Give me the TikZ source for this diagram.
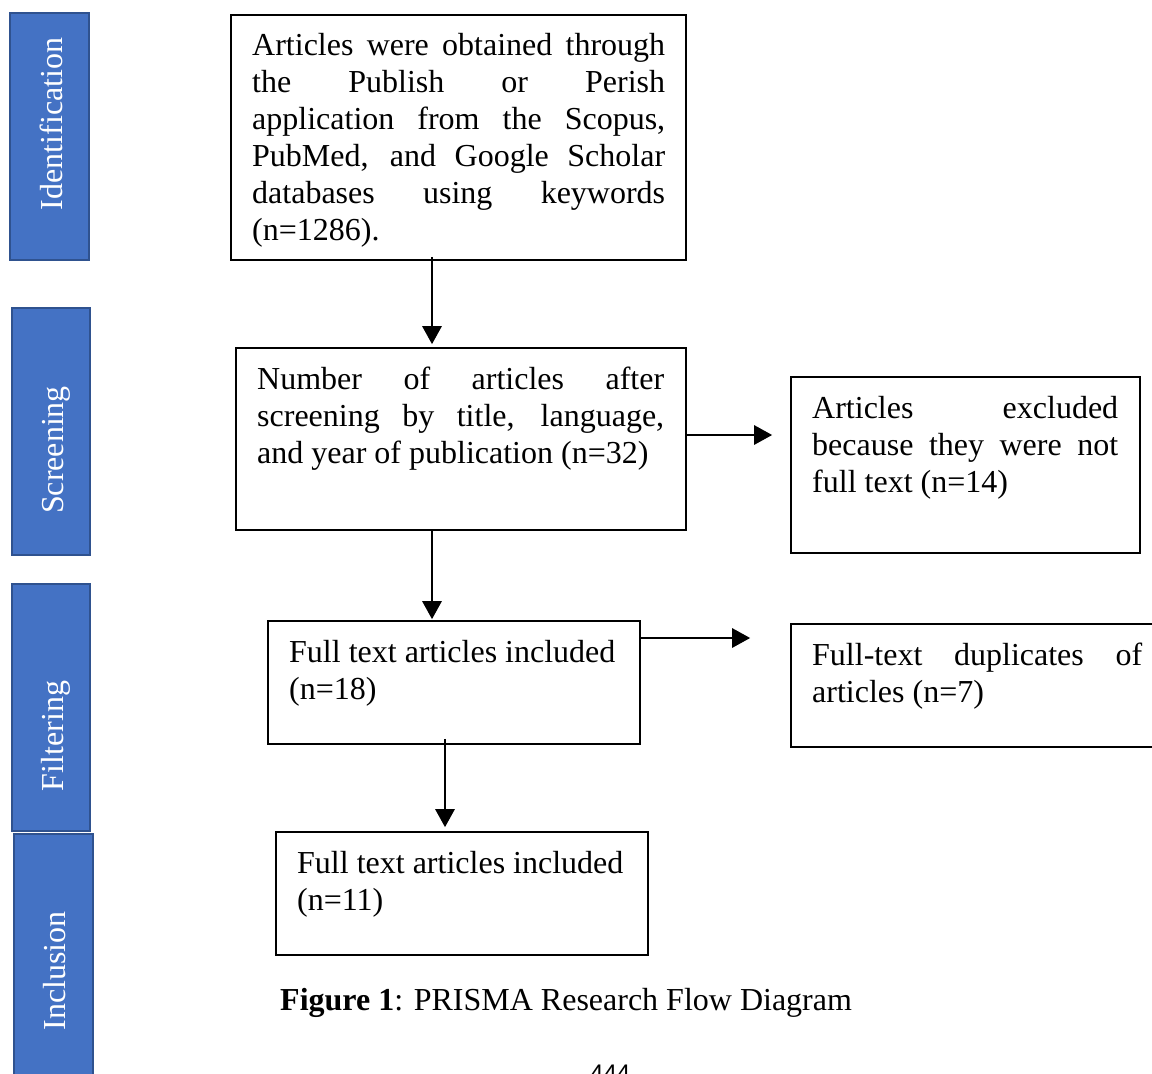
\documentclass[tikz,border=0pt]{standalone}
\usepackage{fontspec}
\setmainfont{Liberation Serif}
\newfontfamily\pagefont{Liberation Sans}
\usetikzlibrary{arrows.meta,calc}
\definecolor{barfill}{HTML}{4472C4}
\definecolor{barline}{HTML}{2F528F}
\tikzset{
  bar/.style={draw=barline, fill=barfill, line width=2.2pt, inner sep=0pt},
  bartext/.style={rotate=90, anchor=base, text=white, inner sep=0pt, font=\fontsize{32}{37}\selectfont},
  flowbox/.style={draw=black, line width=1.6pt, inner sep=0pt},
  boxtext/.style={anchor=base west, inner sep=0pt, font=\fontsize{32}{37}\selectfont},
  arr/.style={draw=black, line width=2.8pt, -{Triangle[length=18pt,width=19pt]}},
}
\newcommand\jline[2]{\makebox[#1][s]{#2}}
\begin{document}
\begin{tikzpicture}[x=1pt,y=-1pt]
\useasboundingbox (0,0) rectangle (1152,1074);
% side bars
\path[bar] (10,13) rectangle (89,260);
\path[bar] (12,308) rectangle (90,555);
\path[bar] (12,584) rectangle (90,831);
\path[bar] (14,834) rectangle (93,1095);
\node[bartext] (lid) at (62,124) {Identification};
\node[bartext] (lsc) at (63,450) {Screening};
\node[bartext] (lfi) at (63,736) {Filtering};
\node[bartext] (lin) at (65,971) {Inclusion};
% boxes
\node[flowbox, minimum width=455pt, minimum height=245pt] (b1) at (458.5,137.5) {};
\node[flowbox, minimum width=450pt, minimum height=182pt] (b2) at (461,439) {};
\node[flowbox, minimum width=349pt, minimum height=176pt] (b3) at (965.5,465) {};
\node[flowbox, minimum width=372pt, minimum height=123pt] (b4) at (454,682.5) {};
\node[flowbox, minimum width=380pt, minimum height=123pt] (b5) at (981,685.5) {};
\node[flowbox, minimum width=372pt, minimum height=123pt] (b6) at (462,893.5) {};
% texts
\node[boxtext] (t1) at (252,55) {\parbox[t]{413pt}{%
\jline{413pt}{Articles were obtained through}\\
\jline{413pt}{the Publish or Perish}\\
\jline{413pt}{application from the Scopus,}\\
\jline{413pt}{PubMed, and Google Scholar}\\
\jline{413pt}{databases using keywords}\\
(n=1286).}};
\node[boxtext] (t2) at (257,389) {\parbox[t]{407pt}{%
\jline{407pt}{Number of articles after}\\
\jline{407pt}{screening by title, language,}\\
and year of publication (n=32)}};
\node[boxtext] (t3) at (812,418) {\parbox[t]{306pt}{%
\jline{306pt}{Articles excluded}\\
\jline{306pt}{because they were not}\\
full text (n=14)}};
\node[boxtext] (t4) at (289,662) {\parbox[t]{340pt}{%
Full text articles included\\
(n=18)}};
\node[boxtext] (t5) at (812,665) {\parbox[t]{330pt}{%
\jline{330pt}{Full-text duplicates of}\\
articles (n=7)}};
\node[boxtext] (t6) at (297,873) {\parbox[t]{340pt}{%
Full text articles included\\
(n=11)}};
% caption and page number
\node[boxtext] (cap) at (280,1010) {\textbf{Figure 1}: PRISMA Research Flow Diagram};
\node[anchor=base west, inner sep=0pt, font=\pagefont\fontsize{24}{24}\selectfont] (pg) at (590,1081) {444};
% connectors
\coordinate (x1) at (432,0);
\coordinate (x2) at (445,0);
\coordinate (y1) at (0,435);
\coordinate (y2) at (0,638);
\draw[arr, shorten <=-4pt, shorten >=3pt] (b1.south -| x1) -- (b2.north -| x1);
\draw[arr, shorten >=18pt] (b2.east |- y1) -- (b3.west |- y1);
\draw[arr, shorten >=1pt] (b2.south -| x1) -- (b4.north -| x1);
\draw[arr, shorten >=40pt] (b4.east |- y2) -- (b5.west |- y2);
\draw[arr, shorten <=-6pt, shorten >=4pt] (b4.south -| x2) -- (b6.north -| x2);
\end{tikzpicture}
\end{document}
